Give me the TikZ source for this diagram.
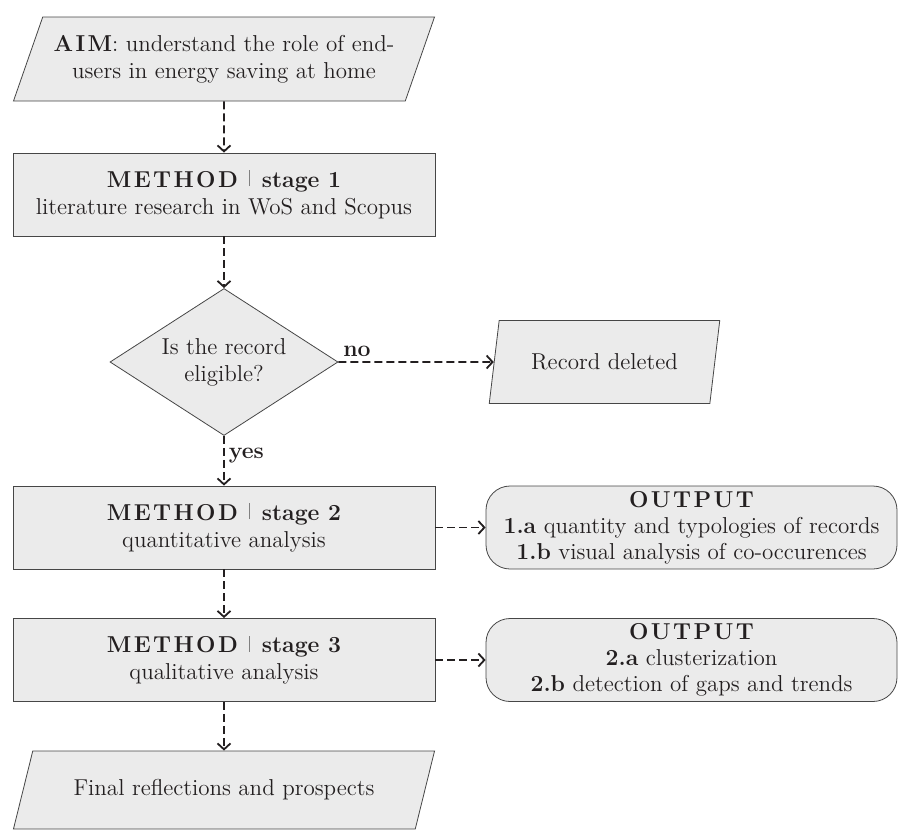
\documentclass[tikz,border=0pt]{standalone}
\usepackage{fontspec}
\usepackage{tikz}
\usetikzlibrary{arrows.meta,positioning,shapes.geometric}
\definecolor{fond}{RGB}{235,235,235}
\definecolor{trait}{RGB}{70,70,70}
\definecolor{encre}{RGB}{35,31,32}
\newcommand{\Espace}[1]{\textbf{#1}}
\newcommand{\Barre}{\enspace{\color{gray}\rule[0.1ex]{0.5pt}{1.6ex}}\enspace}

\begin{document}
\begin{tikzpicture}[x=0.5pt,y=-0.5pt]
\tikzstyle{fleche}=[-{Straight Barb[length=3pt,width=6.5pt]},line width=0.9pt,dash pattern=on 4pt off 2pt,draw=encre]
\tikzstyle{texte}=[text=encre,align=center,font=\fontsize{11.5}{13.5}\selectfont]
\tikzstyle{boite}=[texte,draw=trait,fill=fond,rectangle,minimum width=211pt,minimum height=41.5pt]
\tikzstyle{parallelo}=[texte,draw=trait,fill=fond,trapezium,trapezium stretches=true,trapezium left angle=65,trapezium right angle=115,minimum width=211pt,minimum height=42pt]
\tikzstyle{losange}=[texte,draw=trait,fill=fond,diamond,aspect=1.55,inner sep=0pt,minimum width=114pt,minimum height=73.5pt]
\tikzstyle{sortie}=[texte,draw=trait,fill=fond,rectangle,rounded corners=12pt,inner sep=1pt,minimum width=205.5pt,minimum height=41.5pt,font=\fontsize{11.5}{13}\selectfont]
\tikzstyle{etiquette}=[text=encre,font=\fontsize{11.5}{13.5}\selectfont\bfseries,inner sep=2pt]
\def\Centre{224}
\def\Droite{691.5}
\def\NiveauA{59}
\def\NiveauB{194.5}
\def\NiveauC{362}
\def\NiveauD{527.5}
\def\NiveauE{660}
\def\NiveauF{790}
\useasboundingbox (0,0) rectangle (898,830);
\node[parallelo] (aim) at (\Centre,\NiveauA) {\Espace{A\kern1.2pt I\kern1.2pt M}: understand the role of end-\\users in energy saving at home};
\node[boite] (etape1) at (\Centre,\NiveauB) {\Espace{M\kern1.2pt E\kern1.2pt T\kern1.2pt H\kern1.2pt O\kern1.2pt D}\Barre\textbf{stage 1}\\literature research in WoS and Scopus};
\node[losange] (test) at (\Centre,\NiveauC) {Is the record\\eligible?};
\node[parallelo,trapezium left angle=75.8,trapezium right angle=104.2,minimum width=115.5pt,minimum height=41.5pt] (suppr) at (604.5,\NiveauC) {Record deleted};
\node[boite] (etape2) at (\Centre,\NiveauD) {\Espace{M\kern1.2pt E\kern1.2pt T\kern1.2pt H\kern1.2pt O\kern1.2pt D}\Barre\textbf{stage 2}\\quantitative analysis};
\node[boite] (etape3) at (\Centre,\NiveauE) {\Espace{M\kern1.2pt E\kern1.2pt T\kern1.2pt H\kern1.2pt O\kern1.2pt D}\Barre\textbf{stage 3}\\qualitative analysis};
\node[parallelo,minimum height=39pt] (final) at (\Centre,\NiveauF) {Final reflections and prospects};
\node[sortie] (sortie1) at (\Droite,\NiveauD) {\Espace{O\kern1.2pt U\kern1.2pt T\kern1.2pt P\kern1.2pt U\kern1.2pt T}\\\textbf{1.a} quantity and typologies of records\\\textbf{1.b} visual analysis of co-occurences};
\node[sortie] (sortie2) at (\Droite,\NiveauE) {\Espace{O\kern1.2pt U\kern1.2pt T\kern1.2pt P\kern1.2pt U\kern1.2pt T}\\\textbf{2.a} clusterization\\\textbf{2.b} detection of gaps and trends};
\draw[fleche] (aim)--(etape1);
\draw[fleche] (etape1)--(test);
\draw[fleche] (test)--(suppr) node[etiquette,pos=0,above right] {no};
\draw[fleche] (test)--(etape2) node[etiquette,pos=0.4,right] {yes};
\draw[fleche] (etape2)--(etape3);
\draw[fleche] (etape3)--(final);
\draw[fleche] (etape2)--(sortie1);
\draw[fleche] (etape3)--(sortie2);
\end{tikzpicture}
\end{document}
